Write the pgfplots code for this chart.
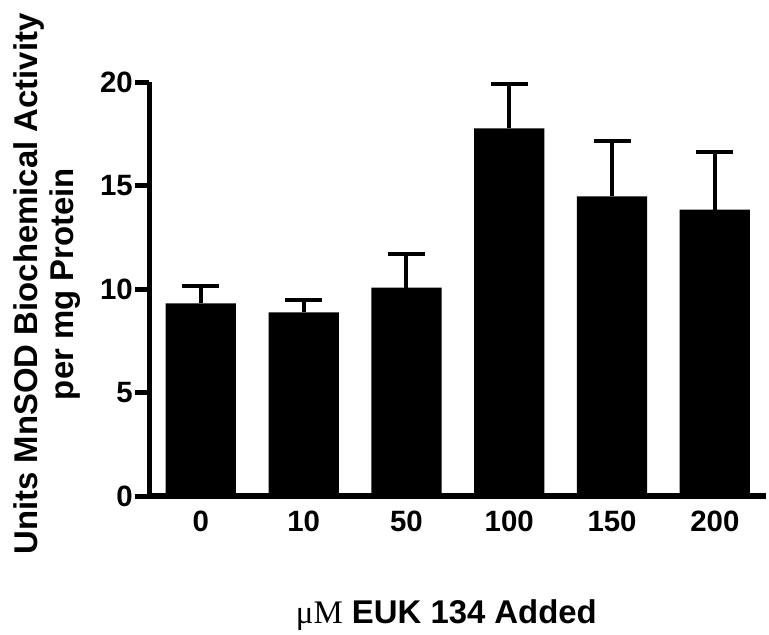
\documentclass[border=0pt]{standalone}
\usepackage{fontspec}
\setmainfont{Liberation Sans}
\newfontfamily\serif{Liberation Serif}
\usepackage{pgfplots}
\pgfplotsset{compat=1.18}

\begin{document}
\begin{tikzpicture}[x=1bp,y=1bp]
  \begin{axis}[
    at={(0,0)}, anchor=south west,
    scale only axis,
    width=619bp, height=415.5bp,
    xmin=-0.5, xmax=5.5,
    ymin=0, ymax=20,
    axis x line*=bottom,
    axis y line*=left,
    axis line style={line width=5.5bp, black},
    xtick={0,1,2,3,4,5},
    xticklabels={0,10,50,100,150,200},
    ytick={0,5,10,15,20},
    tick align=outside,
    major tick length=15bp,
    x tick style={draw=none},
    y tick style={line width=5bp, black},
    /pgf/number format/assume math mode=true,
    ticklabel style={font=\fontsize{29.5bp}{30bp}\selectfont\bfseries},
    yticklabel style={inner sep=1.5bp},
    xticklabel style={inner sep=0pt},
    ybar, bar width=70.5bp,
    clip=false,
    ]
    \addplot[fill=black, draw=none,
      error bars/.cd, y dir=plus, y explicit,
      error bar style={line width=4bp, black},
      error mark options={rotate=90, mark size=18.5bp, line width=4bp, black}]
    coordinates {
      (0, 9.31)  +- (0, 0.83)
      (1, 8.88)  +- (0, 0.59)
      (2, 10.08) +- (0, 1.60)
      (3, 17.77) +- (0, 2.13)
      (4, 14.49) +- (0, 2.67)
      (5, 13.85) +- (0, 2.80)
    };
  \end{axis}
  \node[rotate=90, anchor=base, font=\fontsize{33bp}{36bp}\selectfont\bfseries]
    at (-112,213) {Units MnSOD Biochemical Activity};
  \node[rotate=90, anchor=base, font=\fontsize{33bp}{36bp}\selectfont\bfseries]
    at (-76,213) {per mg Protein};
  \node[anchor=base, font=\fontsize{33bp}{36bp}\selectfont\bfseries]
    at (298,-128) {{\serif\mdseries μM} EUK 134 Added};
  \path[use as bounding box] (-150,-137) rectangle (619,498);
\end{tikzpicture}
\end{document}
